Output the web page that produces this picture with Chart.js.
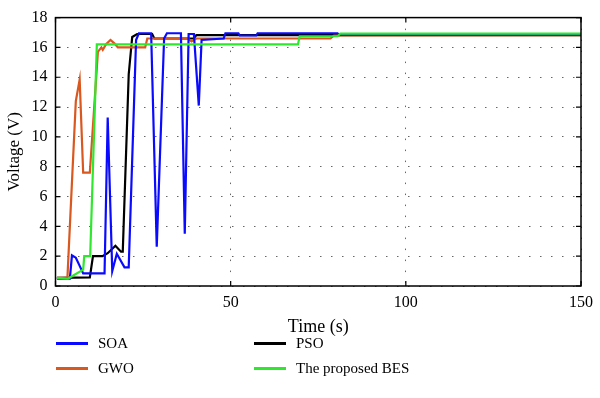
<!DOCTYPE html>
<html>
<head>
<meta charset="utf-8">
<script src="https://cdn.jsdelivr.net/npm/chart.js@4.4.0/dist/chart.umd.min.js"></script>
<style>
  html, body { margin: 0; padding: 0; background: #fff; }
  #wrap { position: relative; width: 600px; height: 398px; }
  #legend { position: absolute; left: 0; top: 0; font-family: "Liberation Serif", serif; font-size: 15px; color: #000; }
  .item { position: absolute; display: flex; align-items: center; white-space: nowrap; height: 20px; }
  .sw { display: inline-block; width: 32px; height: 0; border-top: 3px solid; margin-right: 10px; }
</style>
</head>
<body>
<div id="wrap">
  <canvas id="chart" width="600" height="398"></canvas>
  <div id="legend"></div>
</div>
<script>
// values (time in s, voltage in V)
const soaTime = [0.4, 4.1, 4.7, 5.8, 6.8, 7.9, 14.0, 14.9, 16.2, 17.5, 19.7, 20.9, 23.0, 23.8, 27.3, 28.9, 31.0, 31.8, 35.8, 36.9, 38.0, 39.5, 40.9, 41.7, 48.0, 48.5, 52.2, 52.6, 57.3, 57.7, 80.5, 81.0, 150];
const soaVolt = [0.5, 0.5, 2.05, 1.9, 1.4, 0.84, 0.84, 11.3, 1.0, 2.16, 1.25, 1.25, 16.5, 16.95, 16.95, 2.63, 16.6, 16.95, 16.95, 3.5, 16.9, 16.9, 12.1, 16.5, 16.6, 16.95, 16.95, 16.8, 16.8, 16.95, 16.95, 16.85, 16.85];

const gwoTime = [0.4, 3.4, 5.8, 6.9, 7.9, 9.8, 12.1, 13.1, 13.5, 14.5, 15.7, 16.8, 17.8, 25.6, 26.2, 37.8, 38.8, 40.2, 78.5, 79.5, 150];
const gwoVolt = [0.55, 0.55, 12.4, 13.85, 7.6, 7.6, 15.7, 16.0, 15.84, 16.23, 16.5, 16.27, 16.0, 16.0, 16.6, 16.6, 16.4, 16.6, 16.6, 16.8, 16.82];

const psoTime = [0.4, 9.8, 10.7, 13.4, 14.9, 17.1, 18.7, 19.2, 20.9, 21.9, 23.3, 27.6, 28.2, 39.5, 40.2, 150];
const psoVolt = [0.55, 0.58, 2.0, 2.0, 2.2, 2.7, 2.3, 2.3, 14.2, 16.7, 16.9, 16.9, 16.6, 16.6, 16.83, 16.83];

const besTime = [0.4, 3.6, 7.9, 8.2, 9.9, 11.8, 69.2, 69.7, 80.5, 81.3, 150];
const besVolt = [0.55, 0.5, 1.1, 2.0, 2.0, 16.2, 16.2, 16.75, 16.75, 16.93, 16.93];

const seriesNames = ['SOA', 'GWO', 'PSO', 'The proposed BES'];
const xTicks = [0, 50, 100, 150];
const yTicks = [0, 2, 4, 6, 8, 10, 12, 14, 16, 18];

const toPoints = (t, v) => t.map((x, i) => ({ x: x, y: v[i] }));
const serif = '"Liberation Serif", "Times New Roman", serif';

// box round the plot with small inward ticks
const framePlugin = {
    id: 'frame',
    afterDraw(chart) {
        const { ctx, chartArea: a, scales } = chart;
        ctx.save();
        ctx.strokeStyle = '#000';
        ctx.lineWidth = 1.5;
        ctx.strokeRect(a.left, a.top, a.right - a.left, a.bottom - a.top);
        ctx.lineWidth = 1.2;
        ctx.beginPath();
        xTicks.forEach(v => {
            const px = scales.x.getPixelForValue(v);
            ctx.moveTo(px, a.bottom); ctx.lineTo(px, a.bottom - 5);
            ctx.moveTo(px, a.top); ctx.lineTo(px, a.top + 5);
        });
        yTicks.forEach(v => {
            const py = scales.y.getPixelForValue(v);
            ctx.moveTo(a.left, py); ctx.lineTo(a.left + 5, py);
            ctx.moveTo(a.right, py); ctx.lineTo(a.right - 5, py);
        });
        ctx.stroke();
        ctx.restore();
    }
};

const chart = new Chart(document.getElementById('chart'), {
    type: 'line',
    data: {
        datasets: [
            { label: seriesNames[0], data: toPoints(soaTime, soaVolt), borderColor: '#0a0aff', order: 1 },
            { label: seriesNames[1], data: toPoints(gwoTime, gwoVolt), borderColor: '#d9581f', order: 2 },
            { label: seriesNames[2], data: toPoints(psoTime, psoVolt), borderColor: '#000000', order: 3 },
            { label: seriesNames[3], data: toPoints(besTime, besVolt), borderColor: '#2ee82e', order: 0 }
        ]
    },
    options: {
        responsive: false,
        animation: false,
        datasets: { line: { borderWidth: 2.2, pointRadius: 0, tension: 0, fill: false } },
        layout: { padding: { left: 0, top: 7, right: 14, bottom: 58 } },
        plugins: { legend: { display: false }, tooltip: { enabled: false } },
        scales: {
            x: {
                type: 'linear', min: 0, max: 150,
                afterBuildTicks: s => { s.ticks = xTicks.map(v => ({ value: v })); },
                afterFit: s => { s.height = 54; },
                ticks: { color: '#000', font: { family: serif, size: 16 }, padding: 7, maxRotation: 0 },
                grid: { color: '#666', drawTicks: false },
                border: { display: false, dash: [1.5, 9.5] },
                title: { display: true, text: 'Time (s)', color: '#000', font: { family: serif, size: 18 }, padding: { top: 0, bottom: 2 } }
            },
            y: {
                min: 0, max: 18,
                afterBuildTicks: s => { s.ticks = yTicks.map(v => ({ value: v })); },
                afterFit: s => { s.width = 55.5; },
                ticks: { color: '#000', font: { family: serif, size: 16 }, padding: 8 },
                grid: { color: '#666', drawTicks: false },
                border: { display: false, dash: [1.5, 9.5] },
                title: { display: true, text: 'Voltage (V)', color: '#000', font: { family: serif, size: 17 }, padding: { top: 4, bottom: 0 } }
            }
        }
    },
    plugins: [framePlugin]
});

// legend in two columns under the plot, built from the datasets
const legendSpots = [[56, 333], [56, 358], [254, 333], [254, 358]];
const legendBox = document.getElementById('legend');
chart.data.datasets.forEach((ds, i) => {
    const item = document.createElement('div');
    item.className = 'item';
    item.style.left = legendSpots[i][0] + 'px';
    item.style.top = legendSpots[i][1] + 'px';
    item.innerHTML = '<span class="sw" style="border-color:' + ds.borderColor + '"></span>' + ds.label;
    legendBox.appendChild(item);
});
</script>
</body>
</html>
